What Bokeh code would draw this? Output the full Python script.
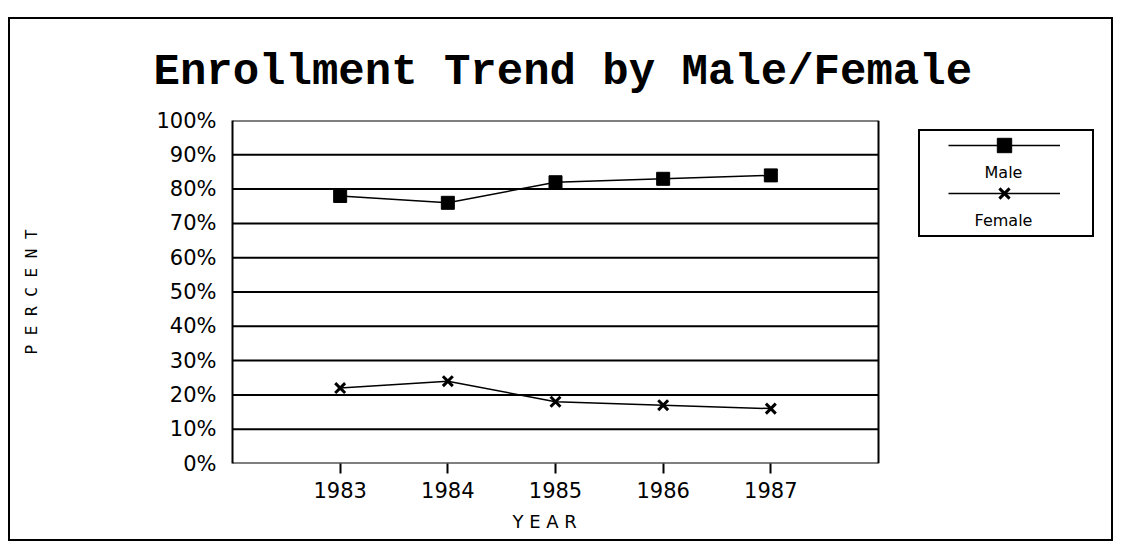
from bokeh.plotting import figure
from bokeh.models import Legend, LegendItem, FixedTicker, PrintfTickFormatter, Range1d, Title, Label
from bokeh.embed import file_html
from bokeh.resources import INLINE

years = [1983, 1984, 1985, 1986, 1987]
male = [78, 76, 82, 83, 84]
female = [22, 24, 18, 17, 16]
y_ticks = list(range(0, 101, 10))
series_names = ["Male", "Female"]

# plot-area extent in data units; the frame extends further right to host the legend
x_start, x_end = 1982, 1988
px_per_year = 646 / 6
view_end = x_start + 868 / px_per_year

p = figure(width=1105, height=524, output_backend="svg", toolbar_location=None,
           x_range=Range1d(x_start, view_end), y_range=Range1d(0, 100),
           min_border_left=222, min_border_right=15, min_border_top=101,
           min_border_bottom=80)
p.styles = {"border": "2px solid black", "margin-top": "17px", "margin-left": "8px"}

p.title.text = "Enrollment Trend by Male/Female"
p.title.align = "left"
p.title.offset = -79
p.title.text_font = "Liberation Mono"
p.title.text_font_style = "bold"
p.title.text_font_size = "44px"
p.title.text_color = "black"
p.title.standoff = 47

p.outline_line_color = None
p.xgrid.visible = False
p.ygrid.visible = False

# grid lines and right border of the plot area
p.segment(x0=[x_start] * len(y_ticks), x1=[x_end] * len(y_ticks), y0=y_ticks, y1=y_ticks,
          line_color="black", line_width=2)
p.segment(x0=[x_end], x1=[x_end], y0=[y_ticks[0]], y1=[y_ticks[-1]],
          line_color="black", line_width=2)

p.yaxis.ticker = FixedTicker(ticks=y_ticks)
p.yaxis.formatter = PrintfTickFormatter(format="%d%%")
p.yaxis.major_tick_line_color = None
p.yaxis.minor_tick_line_color = None
p.yaxis.axis_line_color = "black"
p.yaxis.axis_line_width = 2
p.yaxis.major_label_text_font = "DejaVu Sans"
p.yaxis.major_label_text_font_size = "21px"
p.yaxis.major_label_text_color = "black"
p.yaxis.major_label_standoff = 10
p.yaxis.axis_label = "P E R C E N T"
p.yaxis.axis_label_text_font = "DejaVu Sans Mono"
p.yaxis.axis_label_text_font_style = "normal"
p.yaxis.axis_label_text_font_size = "16px"
p.yaxis.axis_label_text_color = "black"
p.yaxis.axis_label_standoff = 112

p.xaxis.ticker = FixedTicker(ticks=years)
p.xaxis.major_tick_line_color = "black"
p.xaxis.major_tick_line_width = 2
p.xaxis.major_tick_out = 10
p.xaxis.major_tick_in = 0
p.xaxis.minor_tick_line_color = None
p.xaxis.axis_line_color = None
p.xaxis.major_label_text_font = "DejaVu Sans"
p.xaxis.major_label_text_font_size = "21px"
p.xaxis.major_label_text_color = "black"
p.xaxis.major_label_standoff = 8

xlab = Title(text="Y E A R", align="left", offset=280, standoff=16,
             text_font="DejaVu Sans", text_font_style="normal",
             text_font_size="18px", text_color="black")
p.add_layout(xlab, "below")

ml = p.line(years, male, line_color="black", line_width=1.5)
ms = p.scatter(years, male, marker="square", size=13, fill_color="black",
               line_color="black")
fl = p.line(years, female, line_color="black", line_width=1.5)
fs = p.scatter(years, female, marker="x", size=14, line_color="black",
               line_width=3)

dummy = p.scatter([], [], size=0, fill_alpha=0, line_alpha=0)

box = Legend(items=[LegendItem(label=" ", renderers=[dummy])],
             location=(686, 226), padding=0, spacing=0, margin=0,
             glyph_width=10, glyph_height=104, label_width=162,
             label_height=104, label_standoff=0,
             border_line_color="black", border_line_width=2, border_line_alpha=1,
             background_fill_alpha=0)
p.add_layout(box)

leg = Legend(items=[LegendItem(label=" ", renderers=[ml, ms]),
                    LegendItem(label=" ", renderers=[fl, fs])],
             location=(716, 252), padding=0, spacing=12, margin=0,
             glyph_width=112, glyph_height=36, label_height=36,
             label_width=0, label_standoff=0,
             label_text_font_size="8px",
             border_line_color=None, background_fill_alpha=0)
p.add_layout(leg)

for name, ly in zip(series_names, [291, 243]):
    p.add_layout(Label(x=771, y=ly, x_units="screen", y_units="screen", text=name,
                       text_align="center", text_baseline="middle",
                       text_font="DejaVu Sans", text_font_size="16px",
                       text_color="black"))

open("out.html", "w").write(file_html(p, INLINE))
